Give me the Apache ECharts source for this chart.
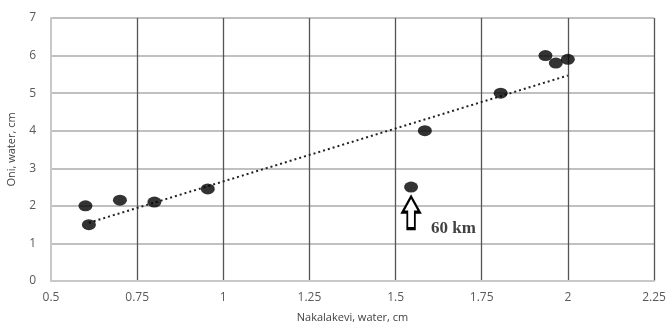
<!DOCTYPE html>
<html><head><meta charset="utf-8">
<script src="https://cdn.jsdelivr.net/npm/echarts@6/dist/echarts.min.js"></script>
<style>html,body{margin:0;padding:0;background:#fff}#c{width:668px;height:322px}</style>
</head><body><div id="c"></div>
<script>
const xValues = [0.6, 0.61, 0.7, 0.8, 0.955, 1.545, 1.585, 1.805, 1.935, 1.965, 2.0];
const yValues = [2.0, 1.5, 2.15, 2.1, 2.45, 2.5, 4.0, 5.0, 6.0, 5.8, 5.9];
const trendX = [0.61, 2.0];
const trendY = [1.55, 5.47];
const xTicks = [0.5, 0.75, 1, 1.25, 1.5, 1.75, 2, 2.25];
const yTicks = [0, 1, 2, 3, 4, 5, 6, 7];
const noteX = 1.545, noteY = 1.4, noteText = '60 km';

const chart = echarts.init(document.getElementById('c'));
const font = 'Open Sans';
chart.setOption({
  animation: false,
  grid: {left: 51, right: 14, top: 18, bottom: 41, outerBoundsMode: 'none', containLabel: false},
  xAxis: {
    type: 'value', min: xTicks[0], max: xTicks[xTicks.length-1], interval: 0.25,
    name: 'Nakalakevi, water, cm', nameLocation: 'middle', nameGap: 31,
    nameTextStyle: {color: '#404040', fontFamily: font, fontSize: 11},
    axisLine: {lineStyle: {color: '#c8c8c8', width: 2}},
    axisTick: {show: false},
    axisLabel: {color: '#595959', fontFamily: font, fontSize: 12, margin: 11},
    splitLine: {show: true, showMinLine: false, lineStyle: {color: '#555', width: 1.3}}
  },
  yAxis: {
    type: 'value', min: yTicks[0], max: yTicks[yTicks.length-1], interval: 1,
    name: 'Oni, water, cm', nameLocation: 'middle', nameGap: 34,
    nameTextStyle: {color: '#404040', fontFamily: font, fontSize: 11},
    axisLine: {show: true, lineStyle: {color: '#c8c8c8', width: 2}},
    axisTick: {show: false},
    axisLabel: {color: '#595959', fontFamily: font, fontSize: 12, margin: 15},
    splitLine: {show: true, lineStyle: {color: '#c0c0c0', width: 2}}
  },
  series: [
    {
      type: 'line', data: trendX.map((x, i) => [x, trendY[i]]),
      symbol: 'none', lineStyle: {color: '#222', width: 2, type: [2, 3]}, z: 2
    },
    {
      type: 'scatter', data: xValues.map((x, i) => [x, yValues[i]]),
      symbol: 'circle', symbolSize: [14, 11], itemStyle: {color: '#000'}, z: 3,
      markPoint: {
        symbol: 'path://M9,0 L18,16 L13,16 L13,33 L5,33 L5,16 L0,16 Z',
        symbolSize: [17, 32],
        itemStyle: {color: '#fff', borderColor: '#000', borderWidth: 2.5},
        label: {show: false},
        data: [{coord: [noteX, noteY + 0.42]}]
      }
    },
    {
      type: 'scatter', data: [[noteX, noteY]], symbolSize: 0, silent: true,
      label: {show: true, formatter: noteText, position: 'right', offset: [15, 0],
        fontFamily: 'Liberation Serif', fontWeight: 'bold', fontSize: 17, color: '#111'}
    }
  ]
});
</script></body></html>
